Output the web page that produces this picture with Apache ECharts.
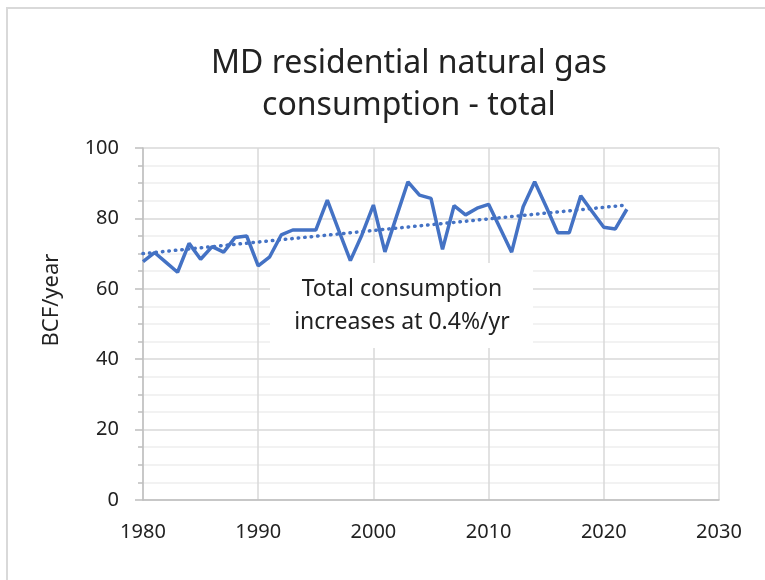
<!DOCTYPE html>
<html>
<head>
<meta charset="utf-8">
<script src="https://cdn.jsdelivr.net/npm/echarts@6/dist/echarts.min.js"></script>
<style>
  html, body { margin: 0; padding: 0; background: #fff; }
  #chart { width: 765px; height: 580px; }
</style>
</head>
<body>
<div id="chart"></div>
<script>
const years = [1980, 1981, 1982, 1983, 1984, 1985, 1986, 1987, 1988, 1989,
  1990, 1991, 1992, 1993, 1994, 1995, 1996, 1997, 1998, 1999,
  2000, 2001, 2002, 2003, 2004, 2005, 2006, 2007, 2008, 2009,
  2010, 2011, 2012, 2013, 2014, 2015, 2016, 2017, 2018, 2019,
  2020, 2021, 2022];
const consumption = [67.7, 70.3, 67.5, 64.7, 72.9, 68.4, 72.0, 70.4, 74.6, 75.0,
  66.5, 69.1, 75.3, 76.7, 76.7, 76.7, 85.2, 76.5, 68.0, 75.3,
  83.8, 70.5, 80.5, 90.4, 86.6, 85.7, 71.2, 83.6, 81.0, 82.9,
  84.0, 77.2, 70.4, 83.3, 90.4, 83.3, 75.9, 75.9, 86.4, 81.9,
  77.5, 77.0, 82.6];
const trendYears = [1980, 2022];
const trendValues = [70.0, 83.8];
const xTicks = [1980, 2030, 10];
const yTicks = [0, 100, 20];

const font = 'Noto Sans';
const blue = '#4472c4';
const ink = '#222';
const pairs = (xs, ys) => xs.map((x, i) => [x, ys[i]]);

const chart = echarts.init(document.getElementById('chart'));
chart.setOption({
  animation: false,
  title: {
    text: 'MD residential natural gas\nconsumption - total',
    left: 404,
    textAlign: 'center',
    top: 38,
    textStyle: { fontFamily: font, fontSize: 32, fontWeight: 'normal', color: ink, lineHeight: 42 },
  },
  grid: { left: 143, right: 46, top: 148, bottom: 80 },
  xAxis: {
    type: 'value',
    min: xTicks[0],
    max: xTicks[1],
    interval: xTicks[2],
    axisLine: { show: true, lineStyle: { color: '#bfbfbf', width: 1.5 } },
    axisTick: { show: false },
    axisLabel: { fontFamily: font, fontSize: 20, color: ink, margin: 22, formatter: (v) => String(v) },
    splitLine: { show: true, lineStyle: { color: '#d9d9d9', width: 1.5 } },
  },
  yAxis: {
    type: 'value',
    min: yTicks[0],
    max: yTicks[1],
    interval: yTicks[2],
    axisLine: { show: true, lineStyle: { color: '#bfbfbf', width: 1.5 } },
    axisTick: { show: true, length: 8, lineStyle: { color: '#bfbfbf', width: 1.5 } },
    minorTick: { show: true, splitNumber: 4, length: 5, lineStyle: { color: '#bfbfbf', width: 1.5 } },
    axisLabel: { fontFamily: font, fontSize: 20, color: ink, margin: 24 },
    splitLine: { show: true, lineStyle: { color: '#d9d9d9', width: 1.5 } },
    minorSplitLine: { show: true, lineStyle: { color: '#eeeeee', width: 1.5 } },
  },
  graphic: [
    {
      type: 'rect',
      shape: { x: 7, y: 8, width: 800, height: 620 },
      style: { fill: 'none', stroke: '#d9d9d9', lineWidth: 2 },
      z: 0,
      silent: true,
    },
    {
      type: 'text',
      x: 52,
      y: 300,
      rotation: Math.PI / 2,
      style: {
        text: 'BCF/year',
        align: 'center',
        verticalAlign: 'middle',
        fontFamily: font,
        fontSize: 22,
        fill: ink,
      },
      silent: true,
    },
    {
      type: 'rect',
      shape: { x: 270, y: 263, width: 263, height: 85 },
      style: { fill: '#fff' },
      z: 1,
      silent: true,
    },
    {
      type: 'text',
      x: 402,
      y: 306,
      style: {
        text: 'Total consumption\nincreases at 0.4%/yr',
        align: 'center',
        verticalAlign: 'middle',
        fontFamily: font,
        fontSize: 23,
        lineHeight: 33,
        fill: ink,
      },
      z: 1,
      silent: true,
    },
  ],
  series: [
    {
      type: 'line',
      data: pairs(years, consumption),
      showSymbol: false,
      lineStyle: { color: blue, width: 3.5 },
      z: 3,
    },
    {
      type: 'line',
      data: pairs(trendYears, trendValues),
      showSymbol: false,
      lineStyle: { color: blue, width: 3.5, type: [0.5, 6], cap: 'round' },
      z: 2,
    },
  ],
});
</script>
</body>
</html>
